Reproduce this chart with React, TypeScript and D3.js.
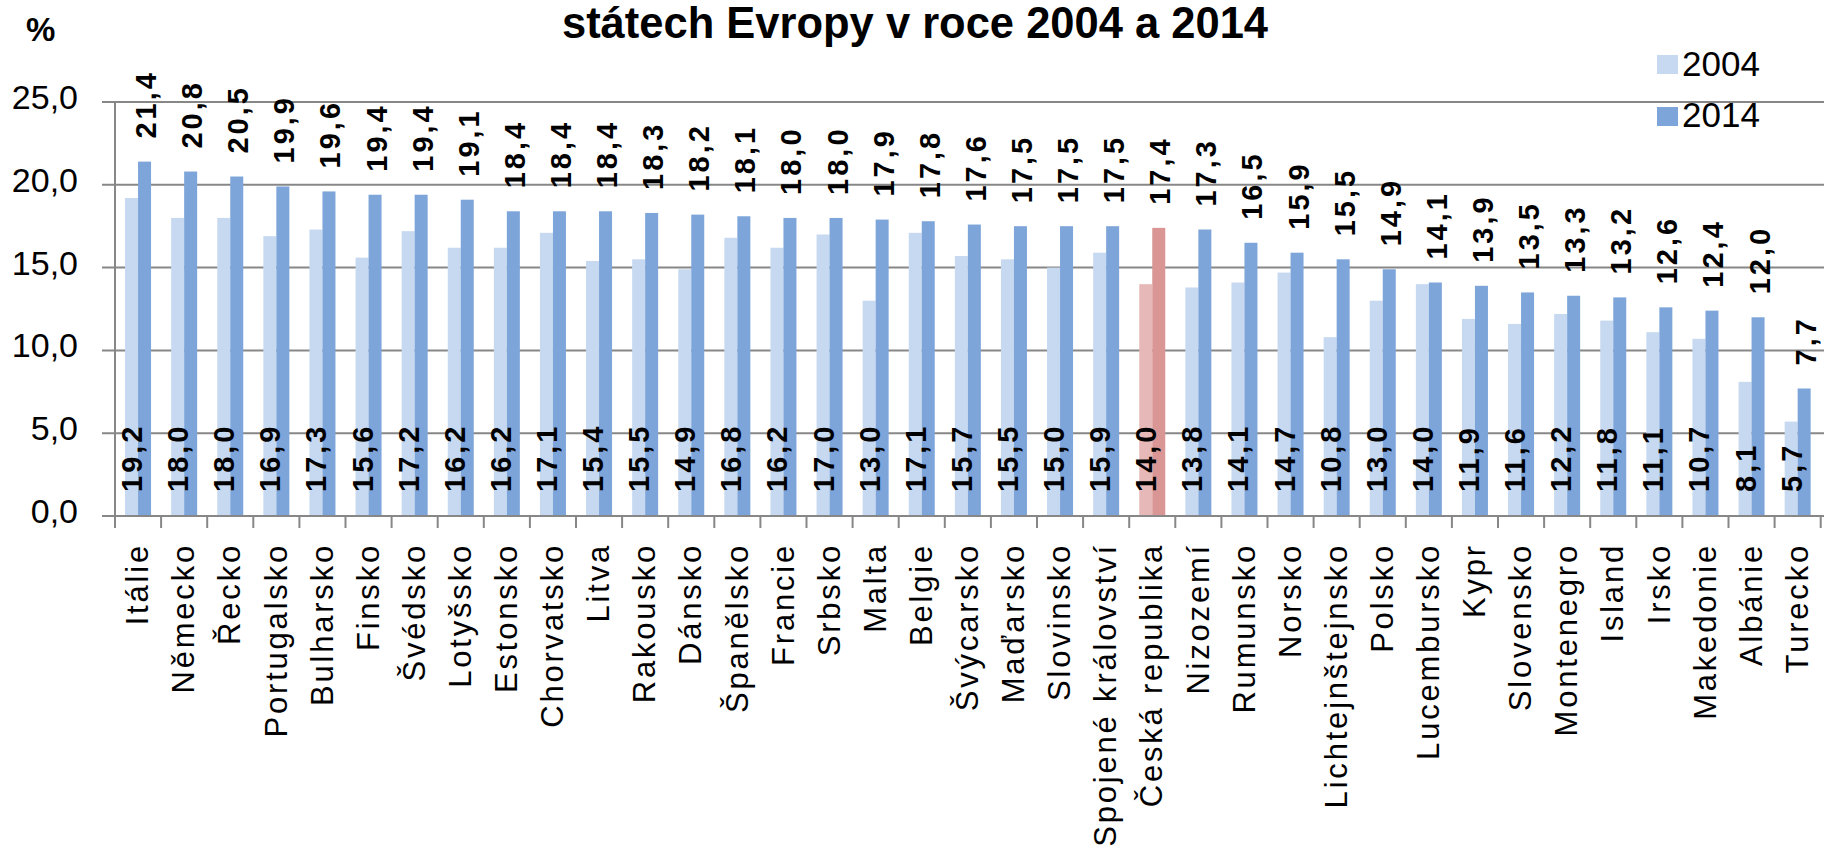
import React, { useEffect } from "react";
import * as d3 from "d3";

const categories: string[] = [
  "Itálie", "Německo", "Řecko", "Portugalsko", "Bulharsko", "Finsko", "Švédsko",
  "Lotyšsko", "Estonsko", "Chorvatsko", "Litva", "Rakousko", "Dánsko", "Španělsko",
  "Francie", "Srbsko", "Malta", "Belgie", "Švýcarsko", "Maďarsko", "Slovinsko",
  "Spojené království", "Česká republika", "Nizozemí", "Rumunsko", "Norsko",
  "Lichtejnštejnsko", "Polsko", "Lucembursko", "Kypr", "Slovensko", "Montenegro",
  "Island", "Irsko", "Makedonie", "Albánie", "Turecko",
];

const values2004: number[] = [
  19.2, 18.0, 18.0, 16.9, 17.3, 15.6, 17.2, 16.2, 16.2, 17.1, 15.4, 15.5, 14.9, 16.8,
  16.2, 17.0, 13.0, 17.1, 15.7, 15.5, 15.0, 15.9, 14.0, 13.8, 14.1, 14.7, 10.8, 13.0,
  14.0, 11.9, 11.6, 12.2, 11.8, 11.1, 10.7, 8.1, 5.7,
];

const values2014: number[] = [
  21.4, 20.8, 20.5, 19.9, 19.6, 19.4, 19.4, 19.1, 18.4, 18.4, 18.4, 18.3, 18.2, 18.1,
  18.0, 18.0, 17.9, 17.8, 17.6, 17.5, 17.5, 17.5, 17.4, 17.3, 16.5, 15.9, 15.5, 14.9,
  14.1, 13.9, 13.5, 13.3, 13.2, 12.6, 12.4, 12.0, 7.7,
];

const seriesNames: string[] = ["2004", "2014"];
const yTicks: number[] = [0, 5, 10, 15, 20, 25];
const highlight = "Česká republika";

const titleText = "státech Evropy v roce 2004 a 2014";
const unitText = "%";

const COLORS = {
  light: "#C6D9F1",
  dark: "#7DA5DA",
  lightHi: "#E6B9B8",
  darkHi: "#D99694",
  grid: "#878787",
};

const FONT = "'Liberation Sans', Arial, sans-serif";

export default function App() {
  useEffect(() => {
    document.body.style.margin = "0";
  }, []);

  const W = 1824;
  const H = 852;
  const left = 115;
  const step = 46.1;
  const top = 102;
  const bottom = 516;

  const x = d3
    .scaleBand<string>()
    .domain(categories)
    .range([left, left + step * categories.length])
    .padding(0);

  const barW = 13;
  const inner = d3
    .scaleBand<string>()
    .domain(seriesNames)
    .range([(x.bandwidth() - 2 * barW) / 2, (x.bandwidth() + 2 * barW) / 2]);

  const y = d3.scaleLinear().domain([0, 25]).range([bottom, top]);

  const fmt = (v: number) => d3.format(".1f")(v).replace(".", ",");

  return (
    <svg
      width={W}
      height={H}
      style={{ position: "absolute", left: 0, top: 0, background: "#fff" }}
      fontFamily={FONT}
    >
      {/* title */}
      <text x={915} y={38} textAnchor="middle" fontSize={43.5} fontWeight="bold" fill="#000">
        {titleText}
      </text>
      <text x={26} y={41} fontSize={33} fontWeight="bold" fill="#000">
        {unitText}
      </text>

      {/* gridlines and y ticks */}
      {yTicks.map((t) => (
        <g key={t}>
          <line x1={102} x2={W} y1={y(t)} y2={y(t)} stroke={COLORS.grid} strokeWidth={2} />
          <text
            x={78}
            y={y(t) - 2}
            textAnchor="end"
            dominantBaseline="middle"
            fontSize={34}
            fill="#000"
          >
            {fmt(t)}
          </text>
        </g>
      ))}

      {/* y axis */}
      <line x1={left} x2={left} y1={top} y2={bottom + 12} stroke={COLORS.grid} strokeWidth={2} />

      {/* x ticks */}
      {categories.map((c) => (
        <line
          key={"t" + c}
          x1={(x(c) as number) + x.bandwidth()}
          x2={(x(c) as number) + x.bandwidth()}
          y1={bottom}
          y2={bottom + 12}
          stroke={COLORS.grid}
          strokeWidth={2}
        />
      ))}

      {/* bars */}
      {categories.map((c, i) => {
        const x0 = x(c) as number;
        const hi = c === highlight;
        const v = [values2004[i], values2014[i]];
        return (
          <g key={"b" + c}>
            {seriesNames.map((s, j) => (
              <rect
                key={s}
                x={x0 + (inner(s) as number)}
                y={y(v[j])}
                width={inner.bandwidth()}
                height={y(0) - y(v[j])}
                fill={j === 0 ? (hi ? COLORS.lightHi : COLORS.light) : hi ? COLORS.darkHi : COLORS.dark}
              />
            ))}
          </g>
        );
      })}

      {/* x-axis baseline on top of bars */}
      <line x1={left} x2={W} y1={bottom} y2={bottom} stroke={COLORS.grid} strokeWidth={2} />

      {/* value labels */}
      {categories.map((c, i) => {
        const x0 = x(c) as number;
        const cx1 = x0 + (inner("2004") as number) + inner.bandwidth() / 2;
        const cx2 = x0 + (inner("2014") as number) + inner.bandwidth() / 2;
        const y1 = 492;
        const y2 = y(values2014[i]) - 23;
        return (
          <g key={"l" + c} fontWeight="bold" fontSize={29} fill="#000">
            <text
              transform={`translate(${cx1},${y1}) rotate(-90)`}
              dy="0.36em"
              letterSpacing={3}
            >
              {fmt(values2004[i])}
            </text>
            <text
              transform={`translate(${cx2 + 1},${y2}) rotate(-90)`}
              dy="0.36em"
              letterSpacing={3}
            >
              {fmt(values2014[i])}
            </text>
          </g>
        );
      })}

      {/* category labels */}
      {categories.map((c) => {
        const cx = (x(c) as number) + x.bandwidth() / 2;
        return (
          <text
            key={"c" + c}
            transform={`translate(${cx},543) rotate(-90)`}
            textAnchor="end"
            dy="0.33em"
            fontSize={31}
            letterSpacing={2.8}
            fill="#000"
          >
            {c}
          </text>
        );
      })}

      {/* legend */}
      {seriesNames.map((s, j) => (
        <g key={"lg" + s}>
          <rect x={1657} y={55 + j * 52} width={21} height={19} fill={j === 0 ? COLORS.light : COLORS.dark} />
          <text x={1682} y={76 + j * 51} fontSize={35} fill="#000">
            {s}
          </text>
        </g>
      ))}
    </svg>
  );
}
